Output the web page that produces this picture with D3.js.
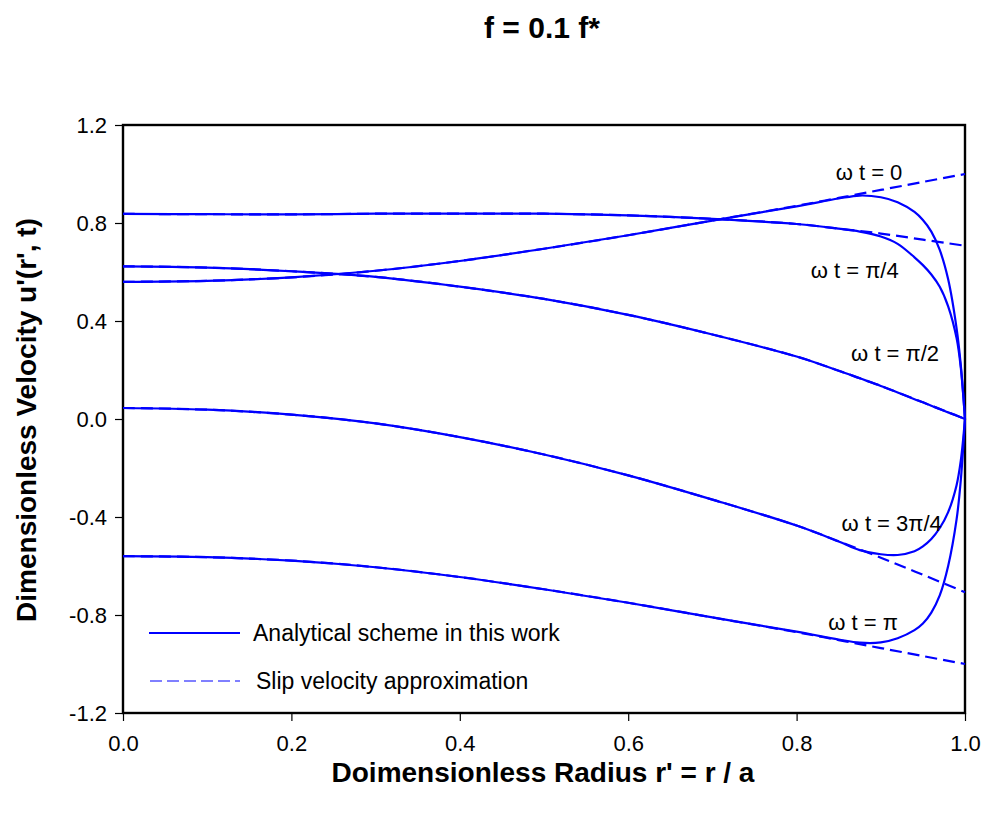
<!DOCTYPE html>
<html>
<head>
<meta charset="utf-8">
<script src="https://cdn.jsdelivr.net/npm/d3@7"></script>
<style>
  body { margin: 0; background: #fff; }
  svg text { font-family: "Liberation Sans", Arial, sans-serif; fill: #000; }
</style>
</head>
<body>
<div id="chart"></div>
<script>
const radius = [0, 0.1, 0.2, 0.3, 0.4, 0.5, 0.6, 0.7, 0.8, 0.85, 0.875, 0.9, 0.92, 0.94, 0.95, 0.96, 0.97, 0.98, 0.99, 0.995, 1.0];
const radiusSlip = [0, 0.1, 0.2, 0.3, 0.4, 0.5, 0.6, 0.7, 0.8, 0.85, 0.9, 0.95, 1.0];

// analytical scheme (solid)
const solid0    = [0.56, 0.564, 0.578, 0.605, 0.645, 0.695, 0.75, 0.81, 0.868, 0.9, 0.912, 0.905, 0.885, 0.845, 0.812, 0.765, 0.69, 0.57, 0.37, 0.22, 0];
const solidPi4  = [0.837, 0.836, 0.835, 0.838, 0.838, 0.838, 0.831, 0.817, 0.796, 0.777, 0.765, 0.745, 0.715, 0.66, 0.628, 0.59, 0.54, 0.46, 0.33, 0.21, 0];
const solidPi2  = [0.623, 0.618, 0.603, 0.58, 0.54, 0.49, 0.425, 0.345, 0.255, 0.197, 0.166, 0.135, 0.108, 0.081, 0.068, 0.054, 0.041, 0.027, 0.014, 0.007, 0];
const solid3Pi4 = [0.045, 0.038, 0.018, -0.018, -0.074, -0.145, -0.23, -0.329, -0.435, -0.5, -0.535, -0.552, -0.555, -0.54, -0.52, -0.49, -0.445, -0.38, -0.27, -0.17, 0];
const solidPi   = [-0.56, -0.564, -0.578, -0.605, -0.645, -0.695, -0.75, -0.81, -0.868, -0.9, -0.913, -0.912, -0.895, -0.862, -0.835, -0.79, -0.72, -0.6, -0.41, -0.25, 0];

// slip velocity approximation (dashed)
const slip0    = [0.56, 0.564, 0.578, 0.605, 0.645, 0.695, 0.75, 0.81, 0.87, 0.9025, 0.935, 0.9675, 1.0];
const slipPi4  = [0.837, 0.836, 0.835, 0.838, 0.838, 0.838, 0.831, 0.817, 0.796, 0.777, 0.757, 0.732, 0.707];
const slipPi2  = [0.623, 0.618, 0.603, 0.58, 0.54, 0.49, 0.425, 0.345, 0.255, 0.197, 0.135, 0.068, 0];
const slip3Pi4 = [0.045, 0.038, 0.018, -0.018, -0.074, -0.145, -0.23, -0.329, -0.435, -0.499, -0.566, -0.636, -0.707];
const slipPi   = [-0.56, -0.564, -0.578, -0.605, -0.645, -0.695, -0.75, -0.81, -0.87, -0.9025, -0.935, -0.9675, -1.0];

const phaseLabels = ['ω t = 0', 'ω t = π/4', 'ω t = π/2', 'ω t = 3π/4', 'ω t = π'];
const labelAt = [[0.886, 0.976], [0.869, 0.576], [0.917, 0.237], [0.913, -0.457], [0.879, -0.861]];
const xTicks = [0, 0.2, 0.4, 0.6, 0.8, 1.0];
const yTicks = [-1.2, -0.8, -0.4, 0, 0.4, 0.8, 1.2];

const W = 986, H = 818;
const margin = { top: 125, right: 21, bottom: 105, left: 123 };
const width = W - margin.left - margin.right;
const height = H - margin.top - margin.bottom;

const svg = d3.select('#chart').append('svg')
  .attr('width', W)
  .attr('height', H);

const g = svg.append('g')
  .attr('transform', `translate(${margin.left},${margin.top})`);

const x = d3.scaleLinear().domain([0, 1]).range([0, width]);
const y = d3.scaleLinear().domain([-1.2, 1.2]).range([height, 0]);
const fmt = d => d.toFixed(1);

// axes
const xAxis = g.append('g')
  .attr('transform', `translate(0,${height})`)
  .call(d3.axisBottom(x).tickValues(xTicks).tickFormat(fmt).tickSize(8).tickPadding(14));
xAxis.selectAll('text').style('font-size', '22px');
xAxis.select('.domain').remove();

const yAxis = g.append('g')
  .call(d3.axisLeft(y).tickValues(yTicks).tickFormat(fmt).tickSize(8).tickPadding(8));
yAxis.selectAll('text').style('font-size', '22px');
yAxis.select('.domain').remove();
g.selectAll('.tick line').attr('stroke', '#000').attr('stroke-width', 1.2);

// frame
g.append('rect')
  .attr('width', width).attr('height', height)
  .attr('fill', 'none').attr('stroke', '#000').attr('stroke-width', 2.4);

const line = d3.line()
  .x(d => x(d[0]))
  .y(d => y(d[1]))
  .curve(d3.curveCatmullRom.alpha(0.5));

const slipSeries = [slip0, slipPi4, slipPi2, slip3Pi4, slipPi];
const solidSeries = [solid0, solidPi4, solidPi2, solid3Pi4, solidPi];

g.selectAll('.slip')
  .data(slipSeries)
  .enter().append('path')
  .attr('class', 'slip')
  .attr('d', s => line(radiusSlip.map((r, i) => [r, s[i]])))
  .attr('fill', 'none')
  .attr('stroke', '#0000ff')
  .attr('stroke-width', 2.2)
  .attr('stroke-dasharray', '12,6');

g.selectAll('.solid')
  .data(solidSeries)
  .enter().append('path')
  .attr('class', 'solid')
  .attr('d', s => line(radius.map((r, i) => [r, s[i]])))
  .attr('fill', 'none')
  .attr('stroke', '#0000ff')
  .attr('stroke-width', 2.2);

// phase annotations
g.selectAll('.phase')
  .data(phaseLabels)
  .enter().append('text')
  .attr('class', 'phase')
  .attr('x', (d, i) => x(labelAt[i][0]))
  .attr('y', (d, i) => y(labelAt[i][1]))
  .attr('text-anchor', 'middle')
  .style('font-size', '22px')
  .text(d => d);

// legend
const legend = g.append('g');
legend.append('line')
  .attr('x1', 26).attr('x2', 117).attr('y1', 508).attr('y2', 508)
  .attr('stroke', '#0000ff').attr('stroke-width', 2.2);
legend.append('text')
  .attr('x', 130).attr('y', 516)
  .style('font-size', '23px')
  .text('Analytical scheme in this work');
legend.append('line')
  .attr('x1', 27).attr('x2', 117).attr('y1', 556).attr('y2', 556)
  .attr('stroke', '#0000ff').attr('stroke-width', 1)
  .attr('stroke-dasharray', '12,5');
legend.append('text')
  .attr('x', 133).attr('y', 564)
  .style('font-size', '23px')
  .text('Slip velocity approximation');

// titles
svg.append('text')
  .attr('x', 542).attr('y', 38)
  .attr('text-anchor', 'middle')
  .style('font-size', '30px').style('font-weight', 'bold')
  .text('f = 0.1 f*');

svg.append('text')
  .attr('x', 543).attr('y', 782)
  .attr('text-anchor', 'middle')
  .style('font-size', '28px').style('font-weight', 'bold')
  .text("Doimensionless Radius r' = r / a");

svg.append('text')
  .attr('transform', 'translate(36,420) rotate(-90)')
  .attr('text-anchor', 'middle')
  .style('font-size', '28px').style('font-weight', 'bold')
  .text("Dimensionless Velocity u'(r', t)");
</script>
</body>
</html>
